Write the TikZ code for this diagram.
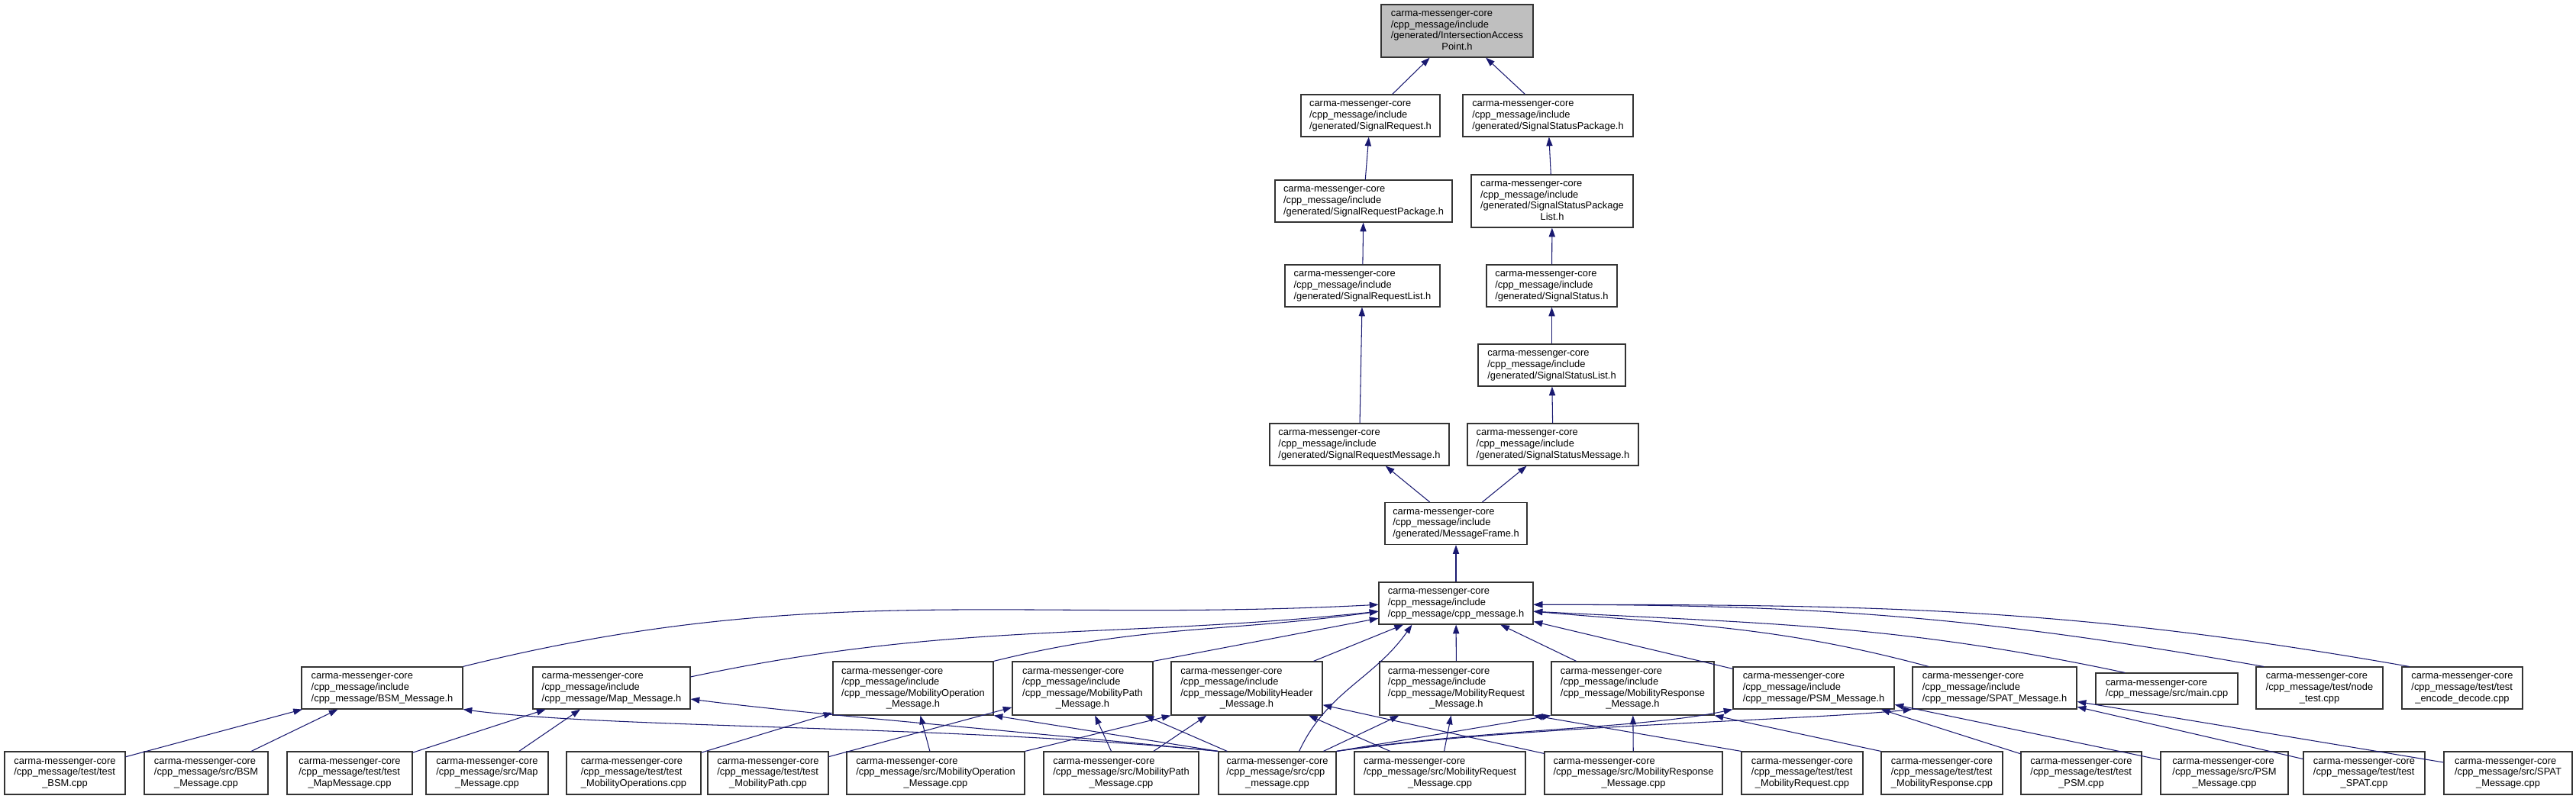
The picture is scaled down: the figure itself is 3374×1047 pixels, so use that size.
\documentclass[tikz,border=0pt]{standalone}
\usepackage{fontspec}
\setmainfont{Liberation Sans}
\usetikzlibrary{arrows.meta}
\definecolor{edgeblue}{HTML}{191970}
\definecolor{rootgrey}{HTML}{BFBFBF}
\newdimen\pxu \pxu=0.03cm
% file labels: all lines left, or last line centred
\newcommand{\lft}[1]{\begin{tabular}{@{}l@{}}#1\end{tabular}}
\newcommand{\lftc}[2]{\begin{tabular}{@{}l@{}}#1\\\multicolumn{1}{@{}c@{}}{#2}\end{tabular}}
\newcommand{\gen}{carma-messenger-core\\/cpp\_message/include\\/generated/}
\newcommand{\cmh}{carma-messenger-core\\/cpp\_message/include\\/cpp\_message/}
\newcommand{\cms}{carma-messenger-core\\/cpp\_message/src/}
\newcommand{\cmt}{carma-messenger-core\\/cpp\_message/test/}
\begin{document}
\begin{tikzpicture}[
    x=0.03cm, y=-0.03cm,
    file/.style={rectangle, draw=black!80, line width=1pt, fill=white, inner sep=0pt,
                 font=\fontsize{11}{12.46}\selectfont},
    hthree/.style={minimum height=55\pxu},
    hfour/.style={minimum height=70\pxu},
    dep/.style={draw=edgeblue, line width=0.9pt, -{Triangle[length=10pt, width=7pt]}}
]
\useasboundingbox (0,0) rectangle (3374,1047);
% generated headers
\node[file, fill=rootgrey, minimum width=199\pxu, minimum height=69\pxu] (iap) at (1908.5,40.5) {\lftc{\gen IntersectionAccess}{Point.h}};
\node[file, hthree, minimum width=182\pxu] (sreq) at (1795,151.5) {\lft{\gen SignalRequest.h}};
\node[file, hthree, minimum width=223\pxu] (sstpkg) at (2027.5,151.5) {\lft{\gen SignalStatusPackage.h}};
\node[file, hthree, minimum width=232\pxu] (sreqpkg) at (1786,263.5) {\lft{\gen SignalRequestPackage.h}};
\node[file, minimum height=69\pxu, minimum width=212\pxu] (sstpkglist) at (2033,263.5) {\lftc{\gen SignalStatusPackage}{List.h}};
\node[file, hthree, minimum width=203\pxu] (sreqlist) at (1784.5,374.5) {\lft{\gen SignalRequestList.h}};
\node[file, hthree, minimum width=171\pxu] (sstatus) at (2032.5,374.5) {\lft{\gen SignalStatus.h}};
\node[file, hthree, minimum width=193\pxu] (sstlist) at (2032.5,478.5) {\lft{\gen SignalStatusList.h}};
\node[file, hthree, minimum width=235\pxu] (sreqmsg) at (1780.5,582.5) {\lft{\gen SignalRequestMessage.h}};
\node[file, hthree, minimum width=224\pxu] (sstmsg) at (2034,582.5) {\lft{\gen SignalStatusMessage.h}};
\node[file, hthree, minimum width=186\pxu] (msgframe) at (1907,686) {\lft{\gen MessageFrame.h}};
\node[file, hthree, minimum width=202\pxu] (cpph) at (1907,790.5) {\lft{\cmh cpp\_message.h}};
% message headers
\node[file, hthree, minimum width=211\pxu] (bsmh) at (500.5,901.5) {\lft{\cmh BSM\_Message.h}};
\node[file, hthree, minimum width=206\pxu] (maph) at (801,901.5) {\lft{\cmh Map\_Message.h}};
\node[file, hfour, minimum width=210\pxu] (mopt) at (1196,902) {\lftc{\cmh MobilityOperation}{\_Message.h}};
\node[file, hfour, minimum width=184\pxu] (mpathh) at (1418,902) {\lftc{\cmh MobilityPath}{\_Message.h}};
\node[file, hfour, minimum width=198\pxu] (mheadh) at (1633,902) {\lftc{\cmh MobilityHeader}{\_Message.h}};
\node[file, hfour, minimum width=201\pxu] (mreqh) at (1907.5,902) {\lftc{\cmh MobilityRequest}{\_Message.h}};
\node[file, hfour, minimum width=213\pxu] (mresh) at (2138.5,902) {\lftc{\cmh MobilityResponse}{\_Message.h}};
\node[file, hthree, minimum width=211\pxu] (psmh) at (2375.5,901.5) {\lft{\cmh PSM\_Message.h}};
\node[file, hthree, minimum width=215\pxu] (spath) at (2612.5,901.5) {\lft{\cmh SPAT\_Message.h}};
\node[file, minimum height=41\pxu, minimum width=186\pxu] (mainc) at (2838,902.5) {\lft{\cms main.cpp}};
\node[file, hthree, minimum width=166\pxu] (nodet) at (3038,901.5) {\lftc{\cmt node}{\_test.cpp}};
\node[file, hthree, minimum width=158\pxu] (encdec) at (3225,901.5) {\lftc{\cmt test}{\_encode\_decode.cpp}};
% sources and tests
\node[file, minimum height=56\pxu, minimum width=158\pxu] (tbsm) at (85,1013) {\lftc{\cmt test}{\_BSM.cpp}};
\node[file, minimum height=56\pxu, minimum width=162\pxu] (sbsm) at (270,1013) {\lftc{\cms BSM}{\_Message.cpp}};
\node[file, minimum height=56\pxu, minimum width=164\pxu] (tmap) at (458,1013) {\lftc{\cmt test}{\_MapMessage.cpp}};
\node[file, minimum height=56\pxu, minimum width=160\pxu] (smap) at (638,1013) {\lftc{\cms Map}{\_Message.cpp}};
\node[file, minimum height=56\pxu, minimum width=176\pxu] (tmops) at (830,1013) {\lftc{\cmt test}{\_MobilityOperations.cpp}};
\node[file, minimum height=56\pxu, minimum width=158\pxu] (tmpath) at (1006,1013) {\lftc{\cmt test}{\_MobilityPath.cpp}};
\node[file, minimum height=56\pxu, minimum width=233\pxu] (smop) at (1225.5,1013) {\lftc{\cms MobilityOperation}{\_Message.cpp}};
\node[file, minimum height=56\pxu, minimum width=203\pxu] (smpath) at (1468.5,1013) {\lftc{\cms MobilityPath}{\_Message.cpp}};
\node[file, minimum height=56\pxu, minimum width=154\pxu] (scpp) at (1673,1013) {\lftc{\cms cpp}{\_message.cpp}};
\node[file, minimum height=56\pxu, minimum width=224\pxu] (smreq) at (1886,1013) {\lftc{\cms MobilityRequest}{\_Message.cpp}};
\node[file, minimum height=56\pxu, minimum width=233\pxu] (smres) at (2139.5,1013) {\lftc{\cms MobilityResponse}{\_Message.cpp}};
\node[file, minimum height=56\pxu, minimum width=159\pxu] (tmreq) at (2360.5,1013) {\lftc{\cmt test}{\_MobilityRequest.cpp}};
\node[file, minimum height=56\pxu, minimum width=159\pxu] (tmres) at (2543.5,1013) {\lftc{\cmt test}{\_MobilityResponse.cpp}};
\node[file, minimum height=56\pxu, minimum width=158\pxu] (tpsm) at (2726,1013) {\lftc{\cmt test}{\_PSM.cpp}};
\node[file, minimum height=56\pxu, minimum width=167\pxu] (spsm) at (2913.5,1013) {\lftc{\cms PSM}{\_Message.cpp}};
\node[file, minimum height=56\pxu, minimum width=159\pxu] (tspat) at (3096.5,1013) {\lftc{\cmt test}{\_SPAT.cpp}};
\node[file, minimum height=56\pxu, minimum width=168\pxu] (sspat) at (3285,1013) {\lftc{\cms SPAT}{\_Message.cpp}};
% generated chain
\draw[dep] (sreq) -- (iap);
\draw[dep] (sstpkg) -- (iap);
\draw[dep] (sreqpkg) -- (sreq);
\draw[dep] (sreqlist) -- (sreqpkg);
\draw[dep] (sreqmsg) -- (sreqlist);
\draw[dep] (msgframe) -- (sreqmsg);
\draw[dep] (sstpkglist) -- (sstpkg);
\draw[dep] (sstatus) -- (sstpkglist);
\draw[dep] (sstlist) -- (sstatus);
\draw[dep] (sstmsg) -- (sstlist);
\draw[dep] (msgframe) -- (sstmsg);
\draw[dep] (cpph) -- (msgframe);
% into cpp_message.h
\draw[dep] (bsmh.north east) to[out=14, in=183] (cpph.181);
\draw[dep] (maph.8) to[out=12, in=186] (cpph.186);
\draw[dep] (mopt.north east) to[out=14, in=188] (cpph.186);
\draw[dep] (mpathh.north east) -- (cpph.191);
\draw[dep] (mheadh) -- (cpph);
\draw[dep] (scpp.45) to[out=65, in=235] (cpph.-154);
\draw[dep] (mreqh) -- (cpph);
\draw[dep] (mresh) -- (cpph);
\draw[dep] (psmh) -- (cpph);
\draw[dep] (spath.162) to[out=165, in=-5] (cpph.-6);
\draw[dep] (mainc.159) to[out=168, in=-3] (cpph.-6);
\draw[dep] (nodet.159) to[out=170, in=0] (cpph.-1);
\draw[dep] (encdec.158) to[out=170, in=0] (cpph.-1);
% into message headers
\draw[dep] (tbsm) -- (bsmh);
\draw[dep] (sbsm) -- (bsmh);
\draw[dep] (tmap) -- (maph);
\draw[dep] (smap) -- (maph);
\draw[dep] (tmops) -- (mopt);
\draw[dep] (tmpath) -- (mpathh);
\draw[dep] (smop) -- (mopt);
\draw[dep] (smop.north east) -- (mheadh.south west);
\draw[dep] (smpath) -- (mpathh);
\draw[dep] (smpath) -- (mheadh);
\draw[dep] (scpp.north west) .. controls (1250,950) and (800,955) .. (bsmh.south east);
\draw[dep] (scpp.north west) .. controls (1300,955) and (1050,935) .. (maph.-8);
\draw[dep] (scpp.north west) -- (mopt.south east);
\draw[dep] (scpp) -- (mpathh);
\draw[dep] (scpp) -- (mreqh);
\draw[dep] (scpp.north east) -- (mresh.south west);
\draw[dep] (scpp.north east) .. controls (1950,955) and (2150,955) .. (psmh.south west);
\draw[dep] (scpp.north east) .. controls (2000,950) and (2350,945) .. (spath.south west);
\draw[dep] (smreq) -- (mreqh);
\draw[dep] (smreq) -- (mheadh);
\draw[dep] (smres) -- (mresh);
\draw[dep] (smres) -- (mheadh);
\draw[dep] (tmreq.north west) -- (mreqh.south east);
\draw[dep] (tmres.north west) -- (mresh.south east);
\draw[dep] (tpsm) -- (psmh);
\draw[dep] (spsm) -- (psmh);
\draw[dep] (tspat) -- (spath);
\draw[dep] (sspat) -- (spath);
\end{tikzpicture}
\end{document}
